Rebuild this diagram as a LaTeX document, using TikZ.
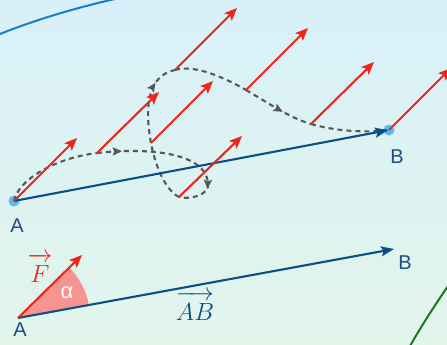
\documentclass[tikz,border=0pt]{standalone}
\usepackage{fontspec}
\setsansfont{Liberation Sans}
\usetikzlibrary{arrows.meta,decorations.markings}
\definecolor{bgtop}{RGB}{216,240,249}
\definecolor{bgbot}{RGB}{226,245,235}
\definecolor{fred}{RGB}{238,38,26}
\definecolor{navy}{RGB}{12,78,134}
\definecolor{lblue}{RGB}{29,79,131}
\definecolor{dotblue}{RGB}{88,188,240}
\definecolor{dgray}{RGB}{88,88,88}
\definecolor{sector}{RGB}{248,148,144}
\definecolor{arcblue}{RGB}{22,128,198}
\definecolor{arcgreen}{RGB}{28,122,28}
\tikzset{
  redvec/.style={draw=fred, line width=2.1pt, -{Stealth[length=12.5pt,width=10.5pt,inset=2.5pt]}},
  bluevec/.style={draw=navy, line width=2.1pt, -{Stealth[length=13pt,width=10pt,inset=2.5pt]}},
  dashpath/.style={color=dgray, line width=2.1pt, dash pattern=on 5pt off 4pt},
  grayhead/.style={decoration={markings, mark=at position #1 with {\arrow{Stealth[length=9pt,width=8pt,inset=1.5pt]}}}, postaction={decorate}},
  ptlabel/.style={text=lblue, font=\sffamily\fontsize{20}{20}\selectfont, inner sep=0pt},
  veclabel/.style={font=\fontsize{23}{23}\selectfont, inner sep=0pt, anchor=base},
  dotstyle/.style={fill=dotblue}
}
\begin{document}
\begin{tikzpicture}[x=1pt,y=-1pt]
\useasboundingbox (0,0) rectangle (447,345);
\clip (0,0) rectangle (447,345);
\shade[top color=bgtop,bottom color=bgbot] (0,0) rectangle (447,345);
% arcs
\draw[arcblue, line width=2pt] (0,34) .. controls (35,20) and (75,8) .. (115,-1);
\draw[arcgreen, line width=2pt] (448,286) .. controls (435,305) and (422,325) .. (410,346);

% coordinates
\coordinate (A) at (14,201);
\coordinate (B) at (389,130);
\coordinate (P2) at (97,153);
\coordinate (P3) at (151,143);
\coordinate (P4) at (175,70);
\coordinate (P5) at (179,197);
\coordinate (P6) at (246,90);
\coordinate (P7) at (311,124);
\coordinate (T1) at (77,138);
\coordinate (T2) at (159,92);
\coordinate (T3) at (213,81);
\coordinate (T4) at (237,8);
\coordinate (T5) at (242,136);
\coordinate (T6) at (308,28);
\coordinate (T7) at (374,62);
\coordinate (T8) at (451,68);
\coordinate (Q1) at (208,183);
\coordinate (Q0) at (208,178);
\coordinate (Q2) at (207.5,189);

% dots
\fill[dotstyle] (A) circle (5.5);
\fill[dotstyle] (B) circle (5.5);

% dashed trajectory
\draw[dashpath] (A) .. controls (18,180) and (55,158) .. (P2);
\draw[dashpath, grayhead=0.2] (P2) .. controls (140,148) and (205,150) .. (Q1);
\draw[dashpath] (Q1) .. controls (210,195) and (190,200) .. (P5);
\path[dashpath, grayhead=0.99] (Q0) -- (Q2);
\draw[dashpath] (P5) .. controls (165,190) and (155,165) .. (P3);
\draw[dashpath, grayhead=0.72] (P3) .. controls (145,110) and (146,76) .. (P4);
\draw[dashpath] (P4) .. controls (195,64) and (225,78) .. (P6);
\draw[dashpath, grayhead=0.58] (P6) .. controls (270,104) and (290,118) .. (P7);
\draw[dashpath] (P7) .. controls (335,131) and (365,133) .. (B);

% AB displacement
\draw[bluevec, shorten >=1pt] (A) -- (B);

% red force vectors
\draw[redvec] (A) -- (T1);
\draw[redvec] (P2) -- (T2);
\draw[redvec] (P3) -- (T3);
\draw[redvec] (P4) -- (T4);
\draw[redvec] (P5) -- (T5);
\draw[redvec] (P6) -- (T6);
\draw[redvec] (P7) -- (T7);
\draw[redvec] (B) -- (T8);

\node[ptlabel] (la) at (17,226) {A};
\node[ptlabel] (lb) at (397,157) {B};

% lower diagram
\coordinate (A2) at (18,318);
\coordinate (B2) at (394,249);
\coordinate (F2) at (82,255);
\fill[sector] (A2) -- ++(-10.4:72) arc[start angle=-10.4, end angle=-44.6, radius=72] -- cycle;
\draw[bluevec] (A2) -- (B2);
\draw[redvec] (A2) -- (F2);
\node[ptlabel] (la2) at (20,330) {A};
\node[ptlabel] (lb2) at (405,263) {B};
\node[text=white, font=\sffamily\fontsize{22}{22}\selectfont, inner sep=0pt] (alpha) at (67,293) {α};
\node[veclabel, text=fred] (fl) at (40,282) {$\overrightarrow{F\rule{0pt}{0.9em}}$};
\node[veclabel, text=navy] (abl) at (195,320) {$\overrightarrow{AB\rule{0pt}{0.9em}}$};
\end{tikzpicture}
\end{document}
